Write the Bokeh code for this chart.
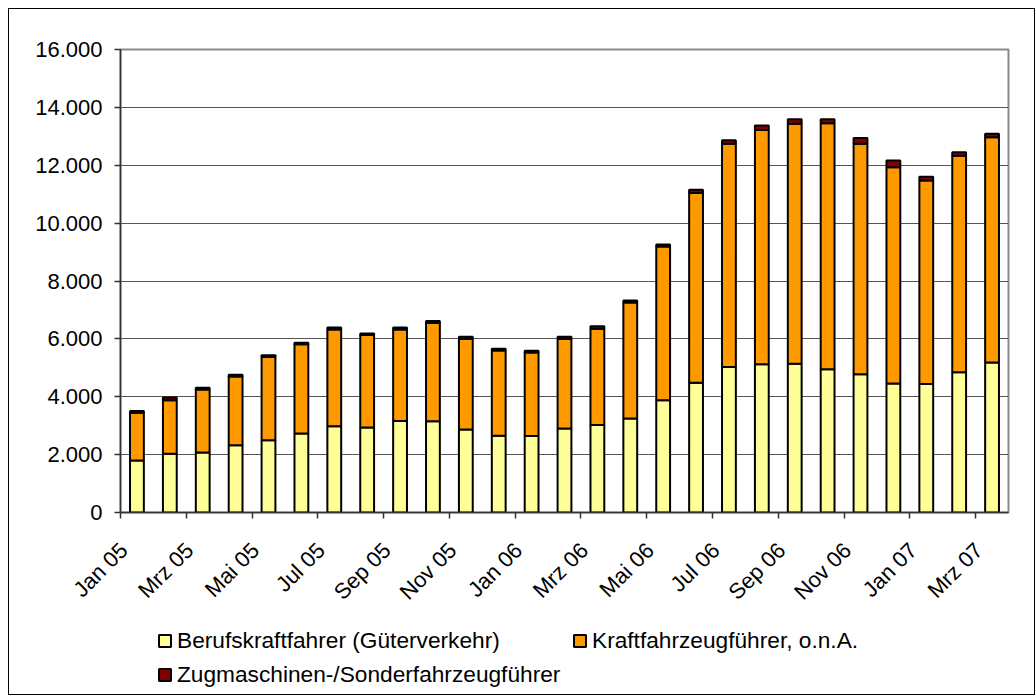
import math
from bokeh.plotting import figure
from bokeh.layouts import column
from bokeh.models import ColumnDataSource, Range1d, FixedTicker, Legend, LegendItem
from bokeh.embed import file_html
from bokeh.resources import INLINE

months = ["Jan 05", "Feb 05", "Mrz 05", "Apr 05", "Mai 05", "Jun 05", "Jul 05", "Aug 05",
          "Sep 05", "Okt 05", "Nov 05", "Dez 05", "Jan 06", "Feb 06", "Mrz 06", "Apr 06",
          "Mai 06", "Jun 06", "Jul 06", "Aug 06", "Sep 06", "Okt 06", "Nov 06", "Dez 06",
          "Jan 07", "Feb 07", "Mrz 07"]

beruf = [1800, 2030, 2070, 2320, 2500, 2730, 2980, 2940, 3160, 3150, 2870, 2650, 2640, 2900,
         3020, 3250, 3880, 4480, 5030, 5120, 5140, 4950, 4780, 4460, 4440, 4850, 5180]
kraft = [1650, 1850, 2180, 2380, 2870, 3080, 3340, 3190, 3160, 3400, 3130, 2950, 2890, 3100,
         3330, 4010, 5310, 6560, 7710, 8100, 8290, 8500, 7960, 7470, 7030, 7480, 7790]
zug = [60, 90, 60, 60, 60, 60, 70, 60, 70, 70, 70, 60, 60, 70,
       90, 70, 70, 110, 120, 150, 160, 140, 200, 230, 130, 120, 120]

series_names = ["Berufskraftfahrer (Güterverkehr)",
                "Kraftfahrzeugführer, o.n.A.",
                "Zugmaschinen-/Sonderfahrzeugführer"]
colors = ["#FFFF99", "#FF9900", "#800000"]

y_ticks = [0, 2000, 4000, 6000, 8000, 10000, 12000, 14000, 16000]
y_tick_labels = ["0", "2.000", "4.000", "6.000", "8.000", "10.000", "12.000", "14.000", "16.000"]

FONT = "Liberation Sans"
n = len(months)

src = ColumnDataSource(dict(x=list(range(n)), beruf=beruf, kraft=kraft, zug=zug))

W = 1025
H1, H2 = 615, 70

p = figure(width=W, height=H1, output_backend="svg", toolbar_location=None,
           x_range=Range1d(-0.5, n - 0.5), y_range=Range1d(0, 16000),
           min_border_left=111, min_border_right=26, min_border_top=40, min_border_bottom=112)
p.background_fill_color = "white"
p.border_fill_color = "white"
p.outline_line_color = "#8a8a8a"
p.outline_line_width = 2

p.vbar_stack(["beruf", "kraft", "zug"], x="x", width=0.42, source=src,
             fill_color=colors, line_color="black", line_width=2)

# x axis: labels every second month, tick marks between category pairs
label_idx = list(range(0, n, 2))
label_shift = 0.4  # label anchor offset (visual alignment of rotated text)
p.xaxis.ticker = FixedTicker(ticks=[i - label_shift for i in label_idx],
                             minor_ticks=[i - 0.5 for i in label_idx])
p.xaxis.major_label_overrides = {i - label_shift: months[i] for i in label_idx}
p.xaxis.major_label_orientation = math.pi / 4
p.xaxis.major_tick_out = 0
p.xaxis.major_tick_in = 0
p.xaxis.minor_tick_out = 6
p.xaxis.minor_tick_in = 0
p.xaxis.minor_tick_line_color = "#333333"
p.xaxis.minor_tick_line_width = 1.5
p.xaxis.axis_line_color = "#333333"
p.xaxis.axis_line_width = 1.5
p.xaxis.major_label_standoff = 28
p.xaxis.major_label_text_font = FONT
p.xaxis.major_label_text_font_size = "22px"
p.xaxis.major_label_text_color = "black"

# y axis
p.yaxis.ticker = FixedTicker(ticks=y_ticks)
p.yaxis.major_label_overrides = {t: l for t, l in zip(y_ticks, y_tick_labels)}
p.yaxis.major_tick_out = 6
p.yaxis.major_tick_in = 0
p.yaxis.minor_tick_out = 0
p.yaxis.minor_tick_in = 0
p.yaxis.major_tick_line_color = "#333333"
p.yaxis.major_tick_line_width = 1.5
p.yaxis.axis_line_color = "#333333"
p.yaxis.axis_line_width = 1.5
p.yaxis.major_label_standoff = 12
p.yaxis.major_label_text_font = FONT
p.yaxis.major_label_text_font_size = "22px"
p.yaxis.major_label_text_color = "black"

p.xgrid.visible = False
p.ygrid.grid_line_color = "#555555"
p.ygrid.grid_line_width = 1

# legend panel (same series, glyphs hidden; used only for legend entries)
p2 = figure(width=W, height=H2, output_backend="svg", toolbar_location=None,
            x_range=Range1d(-0.5, n - 0.5), y_range=Range1d(0, 16000),
            x_axis_location=None, y_axis_location=None, min_border=0)
p2.outline_line_color = None
p2.grid.visible = False
p2.background_fill_color = "white"
p2.border_fill_color = "white"
leg_renderers = p2.vbar_stack(["beruf", "kraft", "zug"], x="x", width=0.42, source=src,
                              fill_color=colors, line_color="black", line_width=2)
for r in leg_renderers:
    r.visible = False

legend_pos = [(37, 40), (452, 40), (37, 6)]
for r, name, loc in zip(leg_renderers, series_names, legend_pos):
    lg = Legend(items=[LegendItem(label=name, renderers=[r])], location=loc,
                orientation="horizontal", padding=0, margin=0, spacing=0,
                glyph_width=15, glyph_height=15, label_standoff=5, label_height=25,
                label_text_font=FONT, label_text_font_size="22.7px", label_text_color="black",
                border_line_alpha=0, background_fill_alpha=0, click_policy="none")
    p2.add_layout(lg, "center")

layout = column(p, p2, spacing=0)
layout.margin = (8, 0, 0, 8)
layout.styles = {"border": "1px solid black"}

open("out.html", "w").write(file_html(layout, INLINE))
